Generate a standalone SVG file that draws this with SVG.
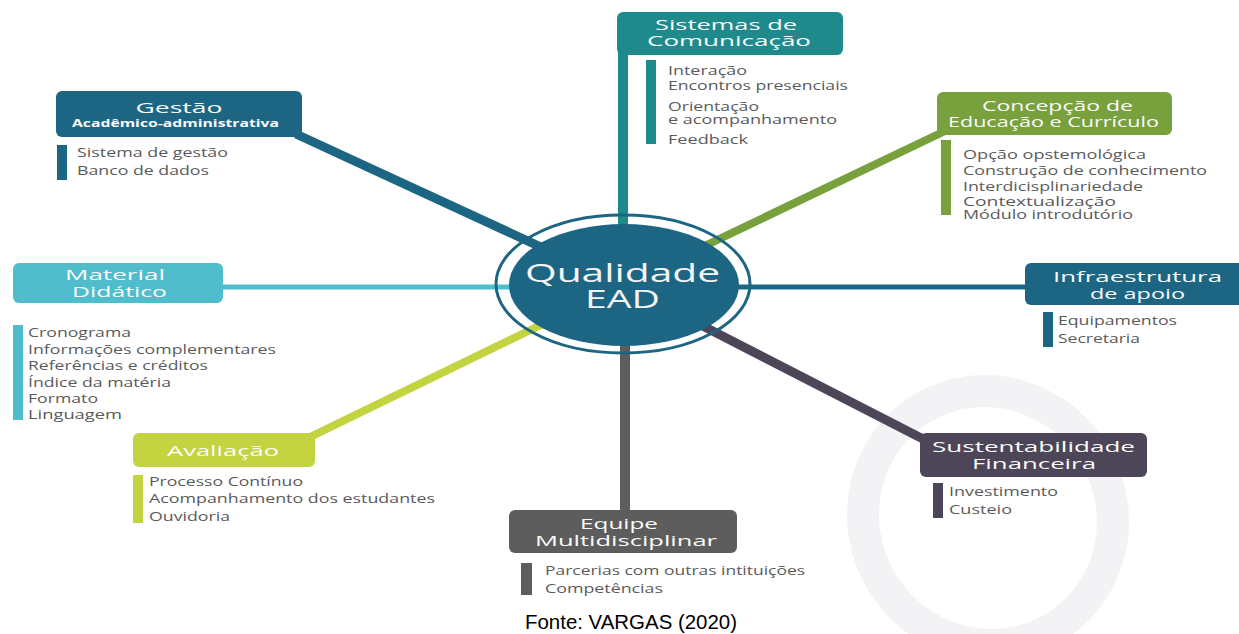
<svg xmlns="http://www.w3.org/2000/svg" width="1239" height="634" viewBox="0 0 1239 634">
<style>
.t{font-family:"Open Sans","Noto Sans","DejaVu Sans",sans-serif;fill:#fbfbfb;font-size:15px;text-anchor:middle}
.s{font-family:"Open Sans","Noto Sans","DejaVu Sans",sans-serif;fill:#fbfbfb;font-size:11px;font-weight:bold;text-anchor:middle}
.i{font-family:"Open Sans","Noto Sans","DejaVu Sans",sans-serif;fill:#5a5a5a;font-size:12px}
.c{font-family:"Open Sans","Noto Sans","DejaVu Sans",sans-serif;fill:#f4f4f4;font-size:25px;text-anchor:middle}
.f{font-family:"Liberation Sans",Arial,sans-serif;fill:#000;font-size:20px;text-anchor:middle}
</style>
<rect width="1239" height="634" fill="#ffffff"/>
<ellipse cx="988" cy="518" rx="124" ry="128" transform="rotate(-30 988 518)" fill="none" stroke="#f3f3f5" stroke-width="32"/>
<g id="connectors" fill="none">
<line x1="623" y1="40" x2="623" y2="285" stroke="#1e8a8c" stroke-width="10"/>
<line x1="296" y1="134" x2="623" y2="285" stroke="#1c6684" stroke-width="9"/>
<line x1="945" y1="131" x2="623" y2="285" stroke="#78a03c" stroke-width="8"/>
<line x1="215" y1="287" x2="623" y2="287" stroke="#4fbdcc" stroke-width="5"/>
<line x1="623" y1="287" x2="1030" y2="287" stroke="#1c6684" stroke-width="5"/>
<line x1="310" y1="437" x2="623" y2="285" stroke="#c3d440" stroke-width="8"/>
<line x1="625" y1="285" x2="625" y2="515" stroke="#5d5d5d" stroke-width="10"/>
<line x1="925" y1="440" x2="623" y2="285" stroke="#4c4658" stroke-width="9"/>
</g>
<g id="center">
<ellipse cx="623" cy="284" rx="127" ry="69" fill="none" stroke="#1c6684" stroke-width="3"/>
<ellipse cx="624" cy="285" rx="115" ry="61" fill="#1c6684"/>
<text class="c" x="622.5" y="282" textLength="195" lengthAdjust="spacingAndGlyphs">Qualidade</text>
<text class="c" x="622.5" y="308" textLength="75" lengthAdjust="spacingAndGlyphs">EAD</text>
</g>
<g id="gestao">
<rect x="56" y="91" width="246" height="46" rx="6" fill="#1c6684"/>
<text class="t" x="179" y="113" textLength="87" lengthAdjust="spacingAndGlyphs">Gestão</text>
<text class="s" x="175.5" y="127" textLength="207" lengthAdjust="spacingAndGlyphs">Acadêmico-administrativa</text>
<rect x="57" y="145" width="10" height="35" fill="#1c6684"/>
<text class="i" x="77" y="157" textLength="151" lengthAdjust="spacingAndGlyphs">Sistema de gestão</text>
<text class="i" x="77" y="175" textLength="132" lengthAdjust="spacingAndGlyphs">Banco de dados</text>
</g>
<g id="sistemas">
<rect x="617" y="12" width="226" height="43" rx="6" fill="#1e8a8c"/>
<text class="t" x="726" y="30" textLength="142" lengthAdjust="spacingAndGlyphs">Sistemas de</text>
<text class="t" x="729" y="46" textLength="164" lengthAdjust="spacingAndGlyphs">Comunicação</text>
<rect x="646" y="60" width="10" height="84" fill="#1e8a8c"/>
<text class="i" x="668" y="75" textLength="79" lengthAdjust="spacingAndGlyphs">Interação</text>
<text class="i" x="668" y="90" textLength="180" lengthAdjust="spacingAndGlyphs">Encontros presenciais</text>
<text class="i" x="668" y="111" textLength="91" lengthAdjust="spacingAndGlyphs">Orientação</text>
<text class="i" x="668" y="124" textLength="169" lengthAdjust="spacingAndGlyphs">e acompanhamento</text>
<text class="i" x="668" y="144" textLength="80" lengthAdjust="spacingAndGlyphs">Feedback</text>
</g>
<g id="concepcao">
<rect x="937" y="92" width="235" height="43" rx="6" fill="#78a03c"/>
<text class="t" x="1057.5" y="111" textLength="151" lengthAdjust="spacingAndGlyphs">Concepção de</text>
<text class="t" x="1053.5" y="127" textLength="211" lengthAdjust="spacingAndGlyphs">Educação e Currículo</text>
<rect x="941" y="140" width="10" height="75" fill="#78a03c"/>
<text class="i" x="963" y="159" textLength="183" lengthAdjust="spacingAndGlyphs">Opção opstemológica</text>
<text class="i" x="963" y="175" textLength="244" lengthAdjust="spacingAndGlyphs">Construção de conhecimento</text>
<text class="i" x="963" y="191" textLength="180" lengthAdjust="spacingAndGlyphs">Interdicisplinariedade</text>
<text class="i" x="963" y="206" textLength="153" lengthAdjust="spacingAndGlyphs">Contextualização</text>
<text class="i" x="963" y="219" textLength="170" lengthAdjust="spacingAndGlyphs">Módulo introdutório</text>
</g>
<g id="material">
<rect x="13" y="263" width="210" height="40" rx="6" fill="#4fbdcc"/>
<text class="t" x="115" y="280" textLength="100" lengthAdjust="spacingAndGlyphs">Material</text>
<text class="t" x="119.5" y="297" textLength="95" lengthAdjust="spacingAndGlyphs">Didático</text>
<rect x="13" y="325" width="10" height="95" fill="#4fbdcc"/>
<text class="i" x="28" y="337" textLength="103" lengthAdjust="spacingAndGlyphs">Cronograma</text>
<text class="i" x="28" y="354" textLength="248" lengthAdjust="spacingAndGlyphs">Informações complementares</text>
<text class="i" x="28" y="370" textLength="180" lengthAdjust="spacingAndGlyphs">Referências e créditos</text>
<text class="i" x="28" y="387" textLength="143" lengthAdjust="spacingAndGlyphs">Índice da matéria</text>
<text class="i" x="28" y="403" textLength="70" lengthAdjust="spacingAndGlyphs">Formato</text>
<text class="i" x="28" y="419" textLength="94" lengthAdjust="spacingAndGlyphs">Linguagem</text>
</g>
<g id="infraestrutura">
<rect x="1025" y="263" width="220" height="42" rx="6" fill="#1c6684"/>
<text class="t" x="1137.5" y="282" textLength="169" lengthAdjust="spacingAndGlyphs">Infraestrutura</text>
<text class="t" x="1137.5" y="299" textLength="95" lengthAdjust="spacingAndGlyphs">de apoio</text>
<rect x="1043" y="312" width="10" height="35" fill="#1c6684"/>
<text class="i" x="1058" y="325" textLength="119" lengthAdjust="spacingAndGlyphs">Equipamentos</text>
<text class="i" x="1058" y="343" textLength="82" lengthAdjust="spacingAndGlyphs">Secretaria</text>
</g>
<g id="avaliacao">
<rect x="133" y="433" width="182" height="34" rx="6" fill="#c3d440"/>
<text class="t" x="223" y="456" textLength="112" lengthAdjust="spacingAndGlyphs">Avaliação</text>
<rect x="133" y="475" width="10" height="48" fill="#c3d440"/>
<text class="i" x="149" y="486" textLength="154" lengthAdjust="spacingAndGlyphs">Processo Contínuo</text>
<text class="i" x="149" y="503" textLength="286" lengthAdjust="spacingAndGlyphs">Acompanhamento dos estudantes</text>
<text class="i" x="149" y="521" textLength="81" lengthAdjust="spacingAndGlyphs">Ouvidoria</text>
</g>
<g id="equipe">
<rect x="509" y="510" width="228" height="43" rx="6" fill="#5d5d5d"/>
<text class="t" x="619" y="529" textLength="78" lengthAdjust="spacingAndGlyphs">Equipe</text>
<text class="t" x="626" y="546" textLength="182" lengthAdjust="spacingAndGlyphs">Multidisciplinar</text>
<rect x="521" y="563" width="11" height="32" fill="#5d5d5d"/>
<text class="i" x="545" y="575" textLength="260" lengthAdjust="spacingAndGlyphs">Parcerias com outras intituições</text>
<text class="i" x="545" y="593" textLength="118" lengthAdjust="spacingAndGlyphs">Competências</text>
</g>
<g id="sustentabilidade">
<rect x="920" y="433" width="227" height="44" rx="6" fill="#4c4658"/>
<text class="t" x="1033.5" y="452" textLength="203" lengthAdjust="spacingAndGlyphs">Sustentabilidade</text>
<text class="t" x="1034" y="469" textLength="124" lengthAdjust="spacingAndGlyphs">Financeira</text>
<rect x="933" y="483" width="10" height="35" fill="#4c4658"/>
<text class="i" x="949" y="496" textLength="109" lengthAdjust="spacingAndGlyphs">Investimento</text>
<text class="i" x="949" y="514" textLength="63" lengthAdjust="spacingAndGlyphs">Custeio</text>
</g>
<text class="f" x="631" y="629" textLength="212" lengthAdjust="spacingAndGlyphs">Fonte: VARGAS (2020)</text>
</svg>
